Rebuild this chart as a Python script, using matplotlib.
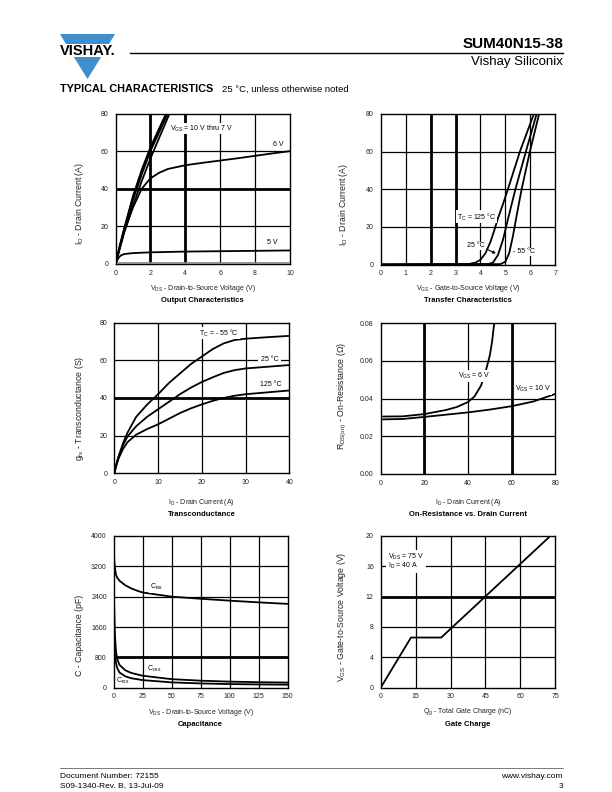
import matplotlib
matplotlib.use("Agg")
import matplotlib.pyplot as plt
from matplotlib.patches import Polygon

plt.rcParams['font.family'] = ['Liberation Sans', 'DejaVu Sans']
plt.rcParams['mathtext.fontset'] = 'custom'
plt.rcParams['mathtext.rm'] = 'Liberation Sans'
plt.rcParams['mathtext.it'] = 'Liberation Sans:italic'
plt.rcParams['mathtext.bf'] = 'Liberation Sans:bold'

# ---- Output characteristics (VDS, ID) ----
OUT_V10_X = [0, 0.25, 0.5, 1, 1.5, 2, 2.5, 2.9]
OUT_V10_Y = [0, 10, 19, 36, 50, 62, 72, 80]
OUT_V9_X = [0, 0.25, 0.5, 1, 1.5, 2, 2.5, 2.95]
OUT_V9_Y = [0, 9.5, 18.5, 35, 49, 61, 71, 80]
OUT_V8_X = [0, 0.25, 0.5, 1, 1.5, 2, 2.5, 3.0]
OUT_V8_Y = [0, 9, 18, 34, 47.5, 60, 70, 80]
OUT_V7_X = [0, 0.25, 0.5, 1, 1.5, 2, 2.5, 3.1]
OUT_V7_Y = [0, 8.5, 17, 31, 44, 56, 67, 80]
OUT_V6_X = [0, 0.25, 0.5, 1, 1.5, 2, 2.5, 3, 4, 5, 6, 7, 8, 9, 10]
OUT_V6_Y = [0, 8.5, 17, 30, 40, 45.5, 48.5, 50.5, 52.5, 53.8, 55, 56.2, 57.5, 58.8, 60]
OUT_V5_X = [0, 0.1, 0.2, 0.3, 0.5, 1, 2, 4, 6, 8, 10]
OUT_V5_Y = [0, 2, 3.5, 4.5, 5.3, 5.8, 6.2, 6.6, 6.8, 7, 7.2]
OUT_V4_X = [0, 10]
OUT_V4_Y = [0.3, 0.3]

# ---- Transfer characteristics (VGS, ID) ----
TR_125_X = [0, 3.5, 3.8, 4.0, 4.2, 4.4, 4.55, 4.7, 4.9, 5.1, 5.58, 6.14]
TR_125_Y = [0, 0.2, 1, 2.5, 6, 12, 18, 24.5, 32, 40, 60, 80]
TR_25_X = [0, 4.3, 4.5, 4.7, 4.9, 5.1, 5.4, 5.82, 6.25]
TR_25_Y = [0, 0.2, 1, 5, 13, 24, 40, 60, 80]
TR_M55_X = [0, 4.8, 5.0, 5.15, 5.3, 5.45, 5.65, 5.98, 6.35]
TR_M55_Y = [0, 0.2, 1.5, 6, 15, 26, 40, 60, 80]

# ---- Transconductance (ID, gfs) ----
GFS_X = [0, 0.5, 1, 2, 3, 5, 7.5, 10, 12.5, 15, 17.5, 20, 22.5, 25, 27.5, 30, 35, 40]
GFS_M55_Y = [0, 5, 9, 16, 21.5, 30, 36.5, 42, 48, 53, 58, 62, 66, 69, 70.8, 71.5, 72.3, 73]
GFS_25_Y = [0, 5, 9, 15, 19.5, 25, 30, 34, 38, 42, 45.5, 48.5, 51, 53.3, 54.8, 55.7, 56.6, 57.5]
GFS_125_Y = [0, 4.5, 8, 13, 16.5, 20.5, 23.5, 26, 29, 32, 34.5, 36.6, 38.5, 40, 41.2, 42, 43, 44]

# ---- On-resistance vs drain current (ID, RDS(on)) ----
RON_6V_X = [1, 10, 20, 30, 35, 40, 43, 46, 48, 50, 51, 52]
RON_6V_Y = [0.0305, 0.0306, 0.0318, 0.0340, 0.0356, 0.0382, 0.0412, 0.047, 0.054, 0.063, 0.070, 0.080]
RON_10V_X = [1, 10, 20, 30, 40, 50, 60, 70, 80]
RON_10V_Y = [0.0290, 0.0292, 0.0303, 0.0315, 0.0327, 0.0342, 0.0360, 0.0385, 0.0425]

# ---- Capacitance (VDS, pF) ----
CISS_X = [0.2, 0.5, 1, 2, 3, 5, 10, 15, 20, 25, 50, 75, 100, 125, 150]
CISS_Y = [3600, 3350, 3150, 2980, 2900, 2820, 2700, 2620, 2560, 2510, 2400, 2345, 2295, 2250, 2210]
COSS_X = [0.3, 1, 2, 3, 5, 10, 15, 25, 50, 75, 100, 125, 150]
COSS_Y = [2300, 1400, 950, 760, 600, 460, 390, 315, 225, 185, 160, 145, 135]
CRSS_X = [0.3, 1, 2, 3, 5, 10, 15, 25, 50, 75, 100, 125, 150]
CRSS_Y = [1600, 900, 650, 520, 400, 300, 250, 200, 140, 112, 96, 86, 80]

# ---- Gate charge (Qg, VGS) ----
QG_X = [0, 13, 26, 73]
QG_Y = [0, 6.6, 6.6, 20]

W, H = 612, 792
fig = plt.figure(figsize=(W / 100, H / 100), dpi=100)

ov = fig.add_axes([0, 0, 1, 1])
ov.set_xlim(0, W); ov.set_ylim(H, 0); ov.axis('off')

LBL = dict(fontsize=5, color='#222')


def panel(box, xlim, ylim, xticks, yticks, thick_x=(), thick_y=(), yfmt=None):
    l, t, r, b = box
    ax = fig.add_axes([l / W, 1 - b / H, (r - l) / W, (b - t) / H])
    ax.set_xlim(xlim); ax.set_ylim(ylim)
    ax.set_xticks(xticks); ax.set_yticks(yticks)
    if yfmt:
        ax.set_yticklabels([yfmt.format(v) for v in yticks])
    for v in xticks[1:-1]:
        ax.axvline(v, color='k', lw=2.0 if v in thick_x else 0.9, zorder=1)
    for v in yticks[1:-1]:
        ax.axhline(v, color='k', lw=2.0 if v in thick_y else 0.9, zorder=1)
    ax.tick_params(length=0, labelsize=5, labelcolor='#222')
    ax.tick_params(axis='x', pad=4)
    ax.tick_params(axis='y', pad=5)
    for s in ax.spines.values():
        s.set_linewidth(1.0)
    return ax


def labels(box, xlabel, title, xl_y, t_y, ylabel, yl_x, yl_y):
    l, t, r, b = box
    cx = (l + r) / 2
    ov.text(cx, xl_y, xlabel, ha='center', va='center', **LBL)
    ov.text(cx, t_y, title, ha='center', va='center', fontsize=5.5, weight='bold')
    ov.text(yl_x, yl_y, ylabel, ha='center', va='center', rotation=90, fontsize=6.3, color='#222')


def curve(ax, x, y, color='k'):
    ax.plot(x, y, color=color, lw=1.3, zorder=3, solid_capstyle='round')


BOX = dict(facecolor='white', edgecolor='none', pad=0.6)

# ---- Panel 1 ----
b1 = (115.5, 113.5, 290, 264)
ax = panel(b1, (0, 10), (0, 80), [0, 2, 4, 6, 8, 10], [0, 20, 40, 60, 80], thick_x=(2, 4), thick_y=(40,))
curve(ax, OUT_V4_X, OUT_V4_Y, color='#888')
for xs, ys in [(OUT_V10_X, OUT_V10_Y), (OUT_V9_X, OUT_V9_Y), (OUT_V8_X, OUT_V8_Y),
               (OUT_V7_X, OUT_V7_Y), (OUT_V6_X, OUT_V6_Y), (OUT_V5_X, OUT_V5_Y)]:
    curve(ax, xs, ys)
ax.text(3.1, 72, r"V$_{\mathrm{GS}}$ = 10 V thru 7 V", fontsize=5, va='center', bbox=BOX, zorder=4)
ax.text(9.0, 63.5, "6 V", fontsize=5, va='center', bbox=BOX, zorder=4)
ax.text(8.7, 11.5, "5 V", fontsize=5, va='center', bbox=BOX, zorder=4)
labels(b1, r"V$_{\mathrm{DS}}$ - Drain-to-Source Voltage (V)", "Output Characteristics",
       289, 300, r"I$_{\mathrm{D}}$ - Drain Current (A)", 80, 203)

# ---- Panel 2 ----
b2 = (380.7, 114, 555.3, 264.5)
ax = panel(b2, (0, 7), (0, 80), list(range(8)), [0, 20, 40, 60, 80], thick_x=(2, 3))
for xs, ys in [(TR_125_X, TR_125_Y), (TR_25_X, TR_25_Y), (TR_M55_X, TR_M55_Y)]:
    curve(ax, xs, ys)
ax.text(3.05, 25.3, r"T$_{\mathrm{C}}$ = 125 °C", fontsize=5, va='center', bbox=BOX, zorder=4)
ax.text(3.45, 9.9, "25 °C", fontsize=5, va='center', bbox=BOX, zorder=4)
ax.annotate('', xy=(4.72, 5.2), xytext=(4.15, 8.8),
            arrowprops=dict(arrowstyle='-|>', lw=0.8, color='k', mutation_scale=4), zorder=4)
ax.text(5.3, 6.7, "- 55 °C", fontsize=5, va='center', bbox=BOX, zorder=4)
labels(b2, r"V$_{\mathrm{GS}}$ - Gate-to-Source Voltage (V)", "Transfer Characteristics",
       289, 300, r"I$_{\mathrm{D}}$ - Drain Current (A)", 343, 204)

# ---- Panel 3 ----
b3 = (114.3, 322.7, 289.3, 473.3)
ax = panel(b3, (0, 40), (0, 80), [0, 10, 20, 30, 40], [0, 20, 40, 60, 80], thick_y=(40,))
for ys in [GFS_M55_Y, GFS_25_Y, GFS_125_Y]:
    curve(ax, GFS_X, ys)
ax.text(19.4, 74.5, r"T$_{\mathrm{C}}$ = - 55 °C", fontsize=5, va='center', bbox=BOX, zorder=4)
ax.text(33.0, 60.5, " 25 °C ", fontsize=5, va='center', bbox=BOX, zorder=4)
ax.text(33.3, 47, "125 °C", fontsize=5, va='center', bbox=BOX, zorder=4)
labels(b3, r"I$_{\mathrm{D}}$ - Drain Current (A)", "Transconductance",
       502, 514, r"g$_{\mathrm{fs}}$ - Transconductance (S)", 79, 408)

# ---- Panel 4 ----
b4 = (380.7, 323.3, 555.3, 474)
ax = panel(b4, (0, 80), (0, 0.08), [0, 20, 40, 60, 80], [0, 0.02, 0.04, 0.06, 0.08],
           thick_x=(20, 60), yfmt="{:.2f}")
curve(ax, RON_6V_X, RON_6V_Y)
curve(ax, RON_10V_X, RON_10V_Y)
ax.text(35.3, 0.052, r"V$_{\mathrm{GS}}$ = 6 V", fontsize=5, va='center', bbox=BOX, zorder=4)
ax.text(61.5, 0.0452, r"V$_{\mathrm{GS}}$ = 10 V", fontsize=5, va='center', bbox=BOX, zorder=4)
labels(b4, r"I$_{\mathrm{D}}$ - Drain Current (A)", "On-Resistance vs. Drain Current",
       502, 514, r"R$_{\mathrm{DS(on)}}$ - On-Resistance (Ω)", 342, 396)

# ---- Panel 5 ----
b5 = (113.7, 536, 287.7, 687.7)
ax = panel(b5, (0, 150), (0, 4000), [0, 25, 50, 75, 100, 125, 150], [0, 800, 1600, 2400, 3200, 4000],
           thick_y=(800,))
for xs, ys in [(CISS_X, CISS_Y), (COSS_X, COSS_Y), (CRSS_X, CRSS_Y)]:
    curve(ax, xs, ys)
ax.text(31, 2650, r"C$_{\mathrm{iss}}$", fontsize=5, va='center', bbox=BOX, zorder=4)
ax.text(29, 490, r"C$_{\mathrm{oss}}$", fontsize=5, va='center', zorder=4)
ax.text(2.0, 170, r"C$_{\mathrm{rss}}$", fontsize=5, va='center', zorder=4)
labels(b5, r"V$_{\mathrm{DS}}$ - Drain-to-Source Voltage (V)", "Capacitance",
       712, 724, "C - Capacitance (pF)", 79, 635)

# ---- Panel 6 ----
b6 = (380.7, 535.7, 555.3, 687.7)
ax = panel(b6, (0, 75), (0, 20), [0, 15, 30, 45, 60, 75], [0, 4, 8, 12, 16, 20], thick_y=(12,))
curve(ax, QG_X, QG_Y)
ax.text(3.2, 16.6, "V$_{\\mathrm{DS}}$ = 75 V\nI$_{\\mathrm{D}}$ = 40 A", fontsize=5, va='center',
        linespacing=0.9, bbox=dict(facecolor='white', edgecolor='none', pad=1.5), zorder=4)
labels(b6, r"Q$_{\mathrm{g}}$ - Total Gate Charge (nC)", "Gate Charge",
       712, 724, r"V$_{\mathrm{GS}}$ - Gate-to-Source Voltage (V)", 342, 617)

# ---- header ----
blue = '#3f8fcd'
ov.add_patch(Polygon([(60, 34), (115, 34), (109, 44), (66, 44)], closed=True, color=blue, lw=0))
ov.add_patch(Polygon([(73.8, 57), (101.2, 57), (87.5, 79)], closed=True, color=blue, lw=0))
ov.text(87.5, 51, "VISHAY.", ha='center', va='center', fontsize=10.5, weight='bold')
ov.plot([130, 563], [53, 53], color='k', lw=1.0)
ov.text(563, 44, "SUM40N15-38", ha='right', va='center', fontsize=11, weight='bold')
ov.text(563, 62, "Vishay Siliconix", ha='right', va='center', fontsize=9.5)
ov.text(60, 89, "TYPICAL CHARACTERISTICS", ha='left', va='center', fontsize=7.8, weight='heavy')
ov.text(222, 89, "25 °C, unless otherwise noted", ha='left', va='center', fontsize=6.8)

# ---- footer ----
ov.plot([60, 563], [768, 768], color='#444', lw=0.5)
ov.text(60, 776, "Document Number: 72155", ha='left', va='center', fontsize=6)
ov.text(60, 786, "S09-1340-Rev. B, 13-Jul-09", ha='left', va='center', fontsize=6)
ov.text(563, 776, "www.vishay.com", ha='right', va='center', fontsize=6)
ov.text(563, 786, "3", ha='right', va='center', fontsize=6)

fig.savefig("out.png", dpi=100)
